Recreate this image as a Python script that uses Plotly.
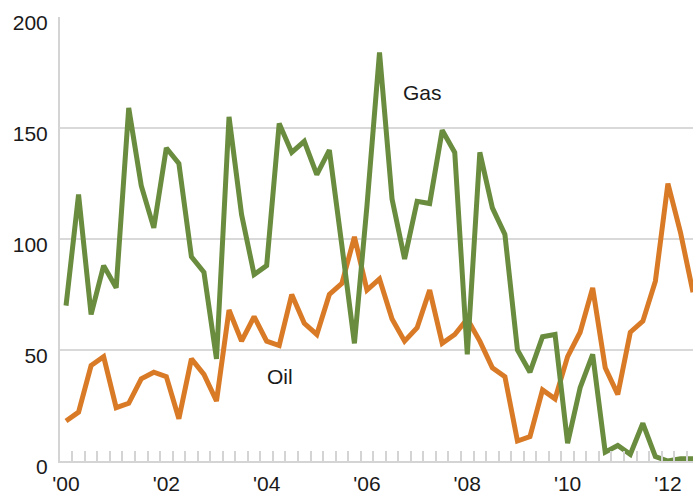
import plotly.graph_objects as go

quarters = [f"{y}Q{q}" for y in range(2000, 2013) for q in range(1, 5)][:51]

gas = [70, 120, 66, 88, 78, 159, 124, 105, 141, 134, 92, 85, 46, 155, 111, 84, 88, 152,
       139, 144, 129, 140, 97, 53, 115, 184, 118, 91, 117, 116, 149, 139, 48, 139, 114,
       102, 50, 40, 56, 57, 8, 33, 48, 4, 7, 3, 17, 2, 0, 1, 1]

oil = [18, 22, 43, 47, 24, 26, 37, 40, 38, 19, 46, 39, 27, 68, 54, 65, 54, 52,
       75, 62, 57, 75, 80, 101, 77, 82, 64, 54, 60, 77, 53, 57, 64, 54, 42,
       38, 9, 11, 32, 28, 47, 58, 78, 42, 30, 58, 63, 81, 125, 103, 76]

year_ticks = [0, 8, 16, 24, 32, 40, 48]
year_labels = ["'00", "'02", "'04", "'06", "'08", "'10", "'12"]
y_ticks = [0, 50, 100, 150, 200]

x = list(range(len(quarters)))

GREEN = "#6a8c3e"
ORANGE = "#d97a27"
FONT = "Liberation Sans, Arial, Helvetica, sans-serif"

fig = go.Figure()
fig.add_trace(go.Scatter(x=x, y=oil, mode="lines", line=dict(color=ORANGE, width=5),
                         name="Oil", hoverinfo="skip"))
fig.add_trace(go.Scatter(x=x, y=gas, mode="lines", line=dict(color=GREEN, width=5),
                         name="Gas", hoverinfo="skip"))

fig.add_annotation(x=28.45, y=166, text="Gas", showarrow=False,
                   font=dict(family=FONT, size=21, color="#1a1a1a"))
fig.add_annotation(x=17.05, y=38.2, text="Oil", showarrow=False,
                   font=dict(family=FONT, size=21, color="#1a1a1a"))

fig.update_layout(
    width=693, height=494,
    margin=dict(l=60, r=0, t=17, b=33),
    paper_bgcolor="white", plot_bgcolor="white",
    showlegend=False,
    font=dict(family=FONT, size=21, color="#1a1a1a"),
)
fig.update_xaxes(
    range=[-0.48, 50.0], automargin=False,
    tickmode="array", tickvals=year_ticks, ticktext=year_labels,
    ticks="", showgrid=False, zeroline=False,
    showline=True, linecolor="#d4d4d4", linewidth=2,
    ticklabelstandoff=3,
    minor=dict(tickmode="linear", tick0=-0.5, dtick=1, ticks="inside",
               ticklen=10, tickwidth=1.5, tickcolor="#d4d4d4", showgrid=False),
)
fig.update_yaxes(
    range=[0, 200], automargin=False,
    tickmode="array", tickvals=y_ticks,
    ticks="", showgrid=True, gridcolor="#d9d9d9", gridwidth=1.5,
    zeroline=False,
    showline=True, linecolor="#d4d4d4", linewidth=2,
    ticklabelshift=6, ticklabelstandoff=6,
)

fig.write_html("out.html", config={"displayModeBar": False},
               post_script="document.body.style.margin='0';document.body.style.overflow='hidden';")
